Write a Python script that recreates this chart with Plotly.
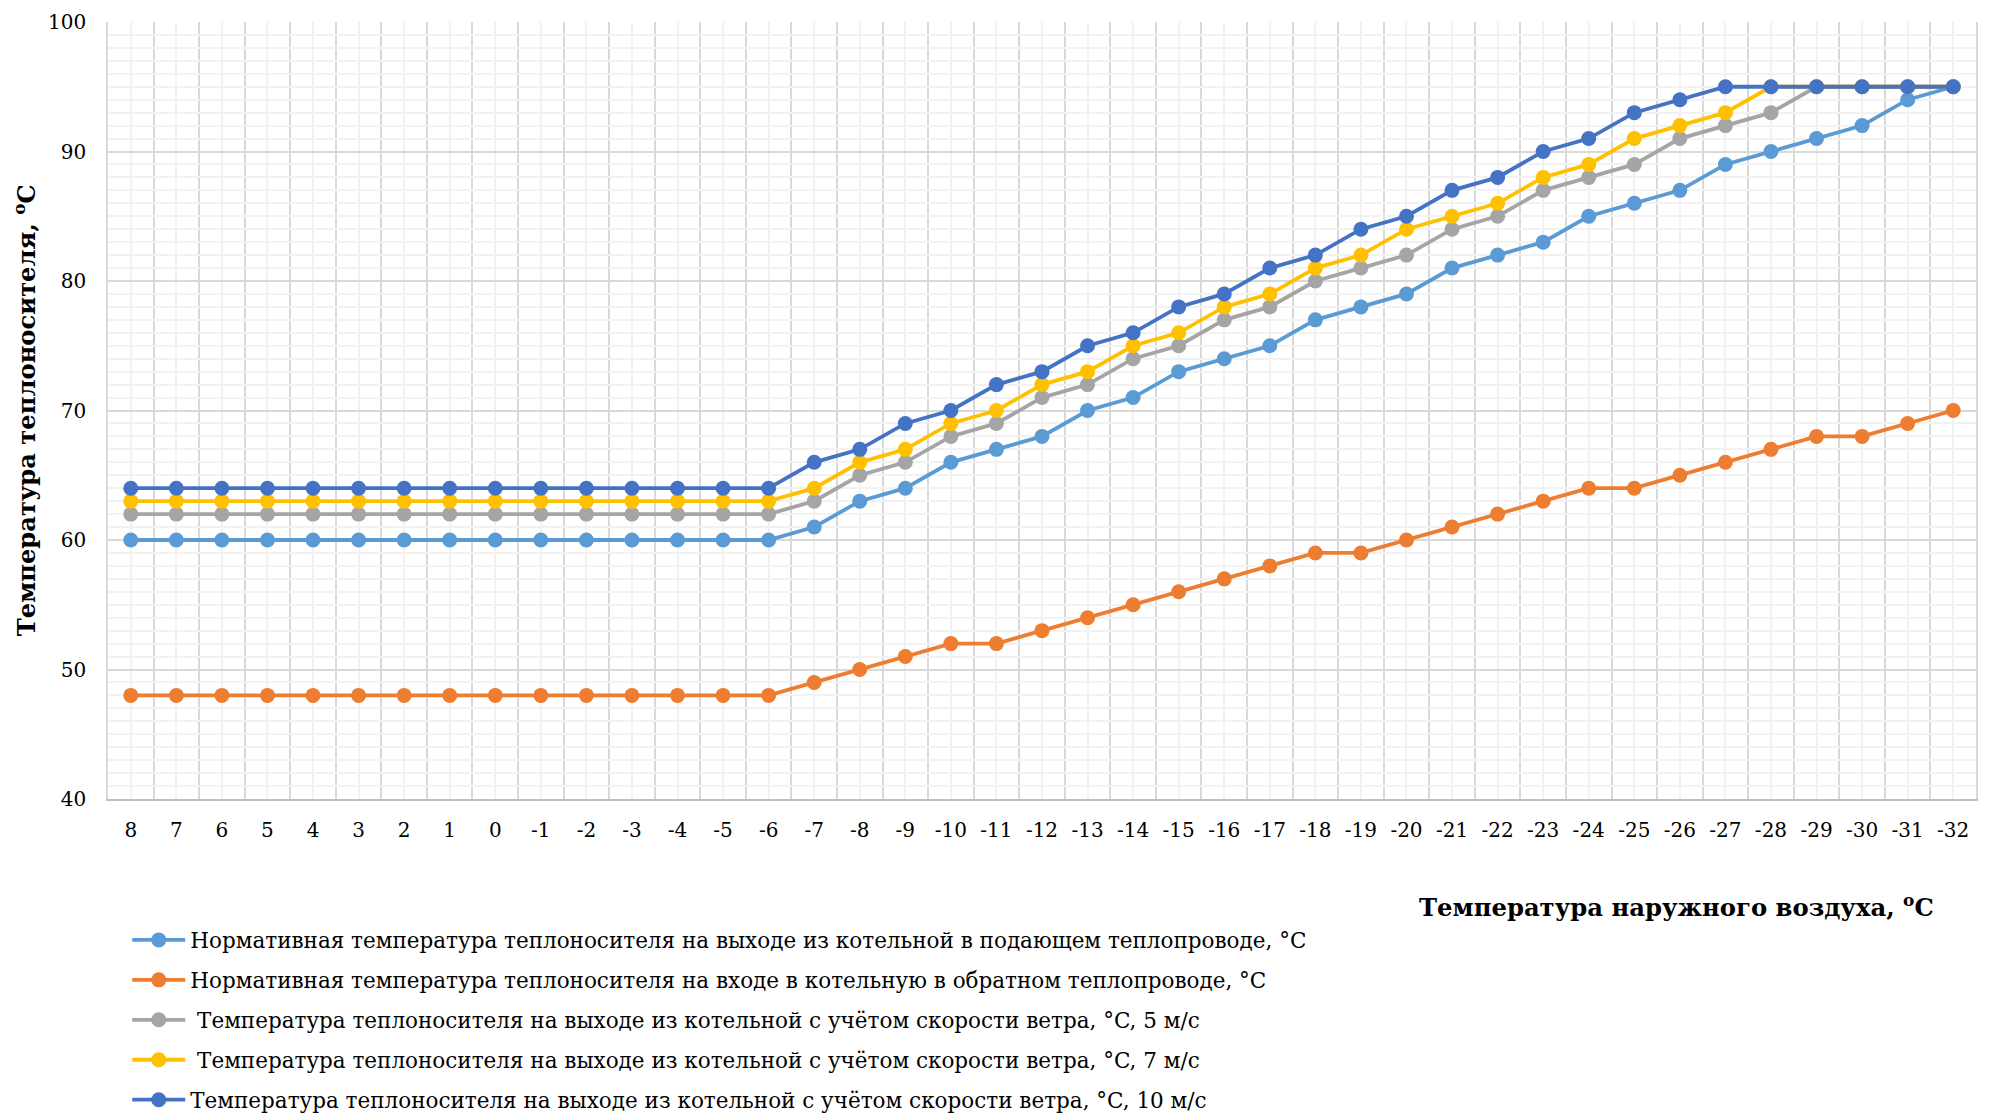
import plotly.graph_objects as go

# ---- data ----
outdoor_temp = ["8", "7", "6", "5", "4", "3", "2", "1", "0", "-1", "-2", "-3", "-4", "-5", "-6",
                "-7", "-8", "-9", "-10", "-11", "-12", "-13", "-14", "-15", "-16", "-17", "-18", "-19",
                "-20", "-21", "-22", "-23", "-24", "-25", "-26", "-27", "-28", "-29", "-30", "-31", "-32"]

supply_norm = [60]*15 + [61, 63, 64, 66, 67, 68, 70, 71, 73, 74, 75, 77, 78, 79, 81, 82, 83,
                         85, 86, 87, 89, 90, 91, 92, 94, 95]
return_norm = [48]*15 + [49, 50, 51, 52, 52, 53, 54, 55, 56, 57, 58, 59, 59, 60, 61, 62, 63,
                         64, 64, 65, 66, 67, 68, 68, 69, 70]
wind_5 = [62]*15 + [63, 65, 66, 68, 69, 71, 72, 74, 75, 77, 78, 80, 81, 82, 84, 85, 87,
                    88, 89, 91, 92, 93, 95, 95, 95, 95]
wind_7 = [63]*15 + [64, 66, 67, 69, 70, 72, 73, 75, 76, 78, 79, 81, 82, 84, 85, 86, 88,
                    89, 91, 92, 93, 95, 95, 95, 95, 95]
wind_10 = [64]*15 + [66, 67, 69, 70, 72, 73, 75, 76, 78, 79, 81, 82, 84, 85, 87, 88, 90,
                     91, 93, 94, 95, 95, 95, 95, 95, 95]

series_names = [
    "Нормативная температура теплоносителя на выходе из котельной в подающем теплопроводе, °C",
    "Нормативная температура теплоносителя на входе в котельную в обратном теплопроводе, °C",
    "\u00a0Температура теплоносителя на выходе из котельной с учётом скорости ветра, °C, 5 м/с",
    "\u00a0Температура теплоносителя на выходе из котельной с учётом скорости ветра, °C, 7 м/с",
    "Температура теплоносителя на выходе из котельной с учётом скорости ветра, °C, 10 м/с",
]
series_values = [supply_norm, return_norm, wind_5, wind_7, wind_10]
series_colors = ["#5B9BD5", "#ED7D31", "#A5A5A5", "#FFC000", "#4472C4"]

y_ticks = [40, 50, 60, 70, 80, 90, 100]

FONT = "DejaVu Serif"
x_idx = list(range(len(outdoor_temp)))

fig = go.Figure()
for name, vals, col in zip(series_names, series_values, series_colors):
    fig.add_trace(go.Scatter(
        x=x_idx, y=vals, name=name, mode="lines+markers",
        line=dict(color=col, width=3.8),
        marker=dict(color=col, size=15),
        legendgroup=name,
    ))

fig.update_layout(
    width=1995, height=1116,
    margin=dict(l=100, r=27, t=14, b=325, autoexpand=False),
    paper_bgcolor="white", plot_bgcolor="white",
    font=dict(family=FONT, color="#000000", size=20),
    showlegend=True,
    legend=dict(
        x=0.0103, y=-0.155, xanchor="left", yanchor="top",
        orientation="v", itemwidth=53,
        font=dict(family=FONT, size=21.5, color="#000000"),
        tracegroupgap=9, bgcolor="rgba(0,0,0,0)",
    ),
    xaxis=dict(
        range=[-0.5, len(outdoor_temp) - 0.5],
        tickmode="array", tickvals=x_idx, ticktext=outdoor_temp,
        showgrid=True, gridcolor="#F2F2F2", gridwidth=1.5,
        zeroline=False, ticks="", ticklabelstandoff=12,
        tickfont=dict(size=20),
        showline=True, linecolor="#BFBFBF", linewidth=2,
        minor=dict(tick0=0.5, dtick=1, showgrid=True, gridcolor="#D9D9D9", gridwidth=1.5),
    ),
    yaxis=dict(
        range=[40, 100],
        tickmode="array", tickvals=y_ticks,
        showgrid=True, gridcolor="#D9D9D9", gridwidth=1.5,
        zeroline=False, ticks="", ticklabelstandoff=16,
        tickfont=dict(size=20),
        showline=True, linecolor="#D9D9D9", linewidth=1.5, mirror=True,
        minor=dict(dtick=1, showgrid=True, gridcolor="#F2F2F2", gridwidth=1.5),
    ),
    annotations=[
        dict(text="Температура наружного воздуха, <sup>o</sup>C", xref="paper", yref="paper",
             x=0.9785, y=-0.138, xanchor="right", yanchor="middle", showarrow=False,
             font=dict(family=FONT, size=24.3, color="#000000", weight="bold")),
        dict(text="Температура теплоносителя, <sup>o</sup>C", xref="paper", yref="paper",
             x=-0.0446, y=0.5, xanchor="center", yanchor="middle", showarrow=False,
             textangle=-90,
             font=dict(family=FONT, size=24.2, color="#000000", weight="bold")),
    ],
)

fig.write_html("out.html")
